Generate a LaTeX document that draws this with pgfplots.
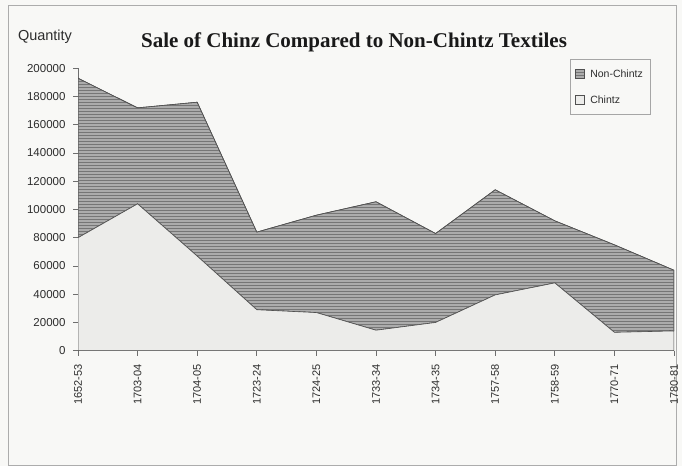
\documentclass[border=0pt]{standalone}
\usepackage{fontspec}
\setmainfont{Liberation Sans}
\newfontfamily\titlefont{Liberation Serif}
\usepackage{pgfplots}
\pgfplotsset{compat=1.18}
\usetikzlibrary{patterns}

\definecolor{bg}{RGB}{248,248,246}
\definecolor{nonc}{RGB}{172,172,172}
\definecolor{noncline}{RGB}{118,118,118}
\definecolor{chz}{RGB}{236,236,234}
\definecolor{edge}{RGB}{80,80,80}
\definecolor{axisc}{RGB}{110,110,110}
\definecolor{txt}{RGB}{45,45,45}

\pgfplotstableread{
x chintz nonchintz
0  80000  113000
1  104000 68000
2  67000  109000
3  29000  55000
4  27000  69000
5  14500  91000
6  20000  63000
7  39500  74500
8  48000  44000
9  13000  62000
10 14000  43000
}\datatable

\begin{document}
\begin{tikzpicture}[x=1pt,y=1pt]
\fill[bg] (0,0) rectangle (682,466);
\draw[gray!65, line width=1pt] (8,1) rectangle (676,460);
\node[anchor=base, font=\fontsize{14.5}{16}\selectfont, text=txt] at (45,425.5) {Quantity};
\node[anchor=base, font=\titlefont\bfseries\fontsize{21}{24}\selectfont, text=black!90] at (354,418.5) {Sale of Chinz Compared to Non-Chintz Textiles};
\begin{axis}[
  at={(78pt,115.3pt)}, anchor=south west, scale only axis,
  width=596pt, height=282.4pt,
  xmin=0, xmax=10, ymin=0, ymax=200000,
  axis x line=bottom, axis y line=left,
  axis line style={-, axisc, line width=0.8pt},
  xtick={0,1,...,10},
  xticklabels={1652-53,1703-04,1704-05,1723-24,1724-25,1733-34,1734-35,1757-58,1758-59,1770-71,1780-81},
  ytick={0,20000,40000,60000,80000,100000,120000,140000,160000,180000,200000},
  yticklabels={0,20000,40000,60000,80000,100000,120000,140000,160000,180000,200000},
  tick align=outside, major tick length=5pt,
  tick style={axisc, line width=0.8pt},
  scaled y ticks=false,
  xticklabel shift=5pt, yticklabel shift=4pt,
  yticklabel style={font=\fontsize{11.5}{12}\selectfont, text=txt},
  xticklabel style={rotate=90, anchor=east, font=\fontsize{11}{12}\selectfont, text=txt},
  stack plots=y,
  reverse legend,
  legend cell align=left,
  legend style={at={(0.9597,1.032)}, anchor=north east, draw=gray!70, fill=bg,
    font=\fontsize{10.5}{12}\selectfont, text=txt, inner xsep=5pt, inner ysep=8pt,
    row sep=13pt, column sep=4pt},
  legend image code/.code={\draw[#1, line width=0.4pt] (0pt,-4.5pt) rectangle (8.5pt,4.5pt);},
]
\addplot[draw=edge, line width=0.6pt, fill=chz] table[x=x, y=chintz] {\datatable} \closedcycle;
\addlegendentry{Chintz}
\addplot[draw=edge, line width=0.6pt, fill=nonc, postaction={pattern=horizontal lines, pattern color=noncline}] table[x=x, y=nonchintz] {\datatable} \closedcycle;
\addlegendentry{Non-Chintz}
\end{axis}
\end{tikzpicture}
\end{document}
